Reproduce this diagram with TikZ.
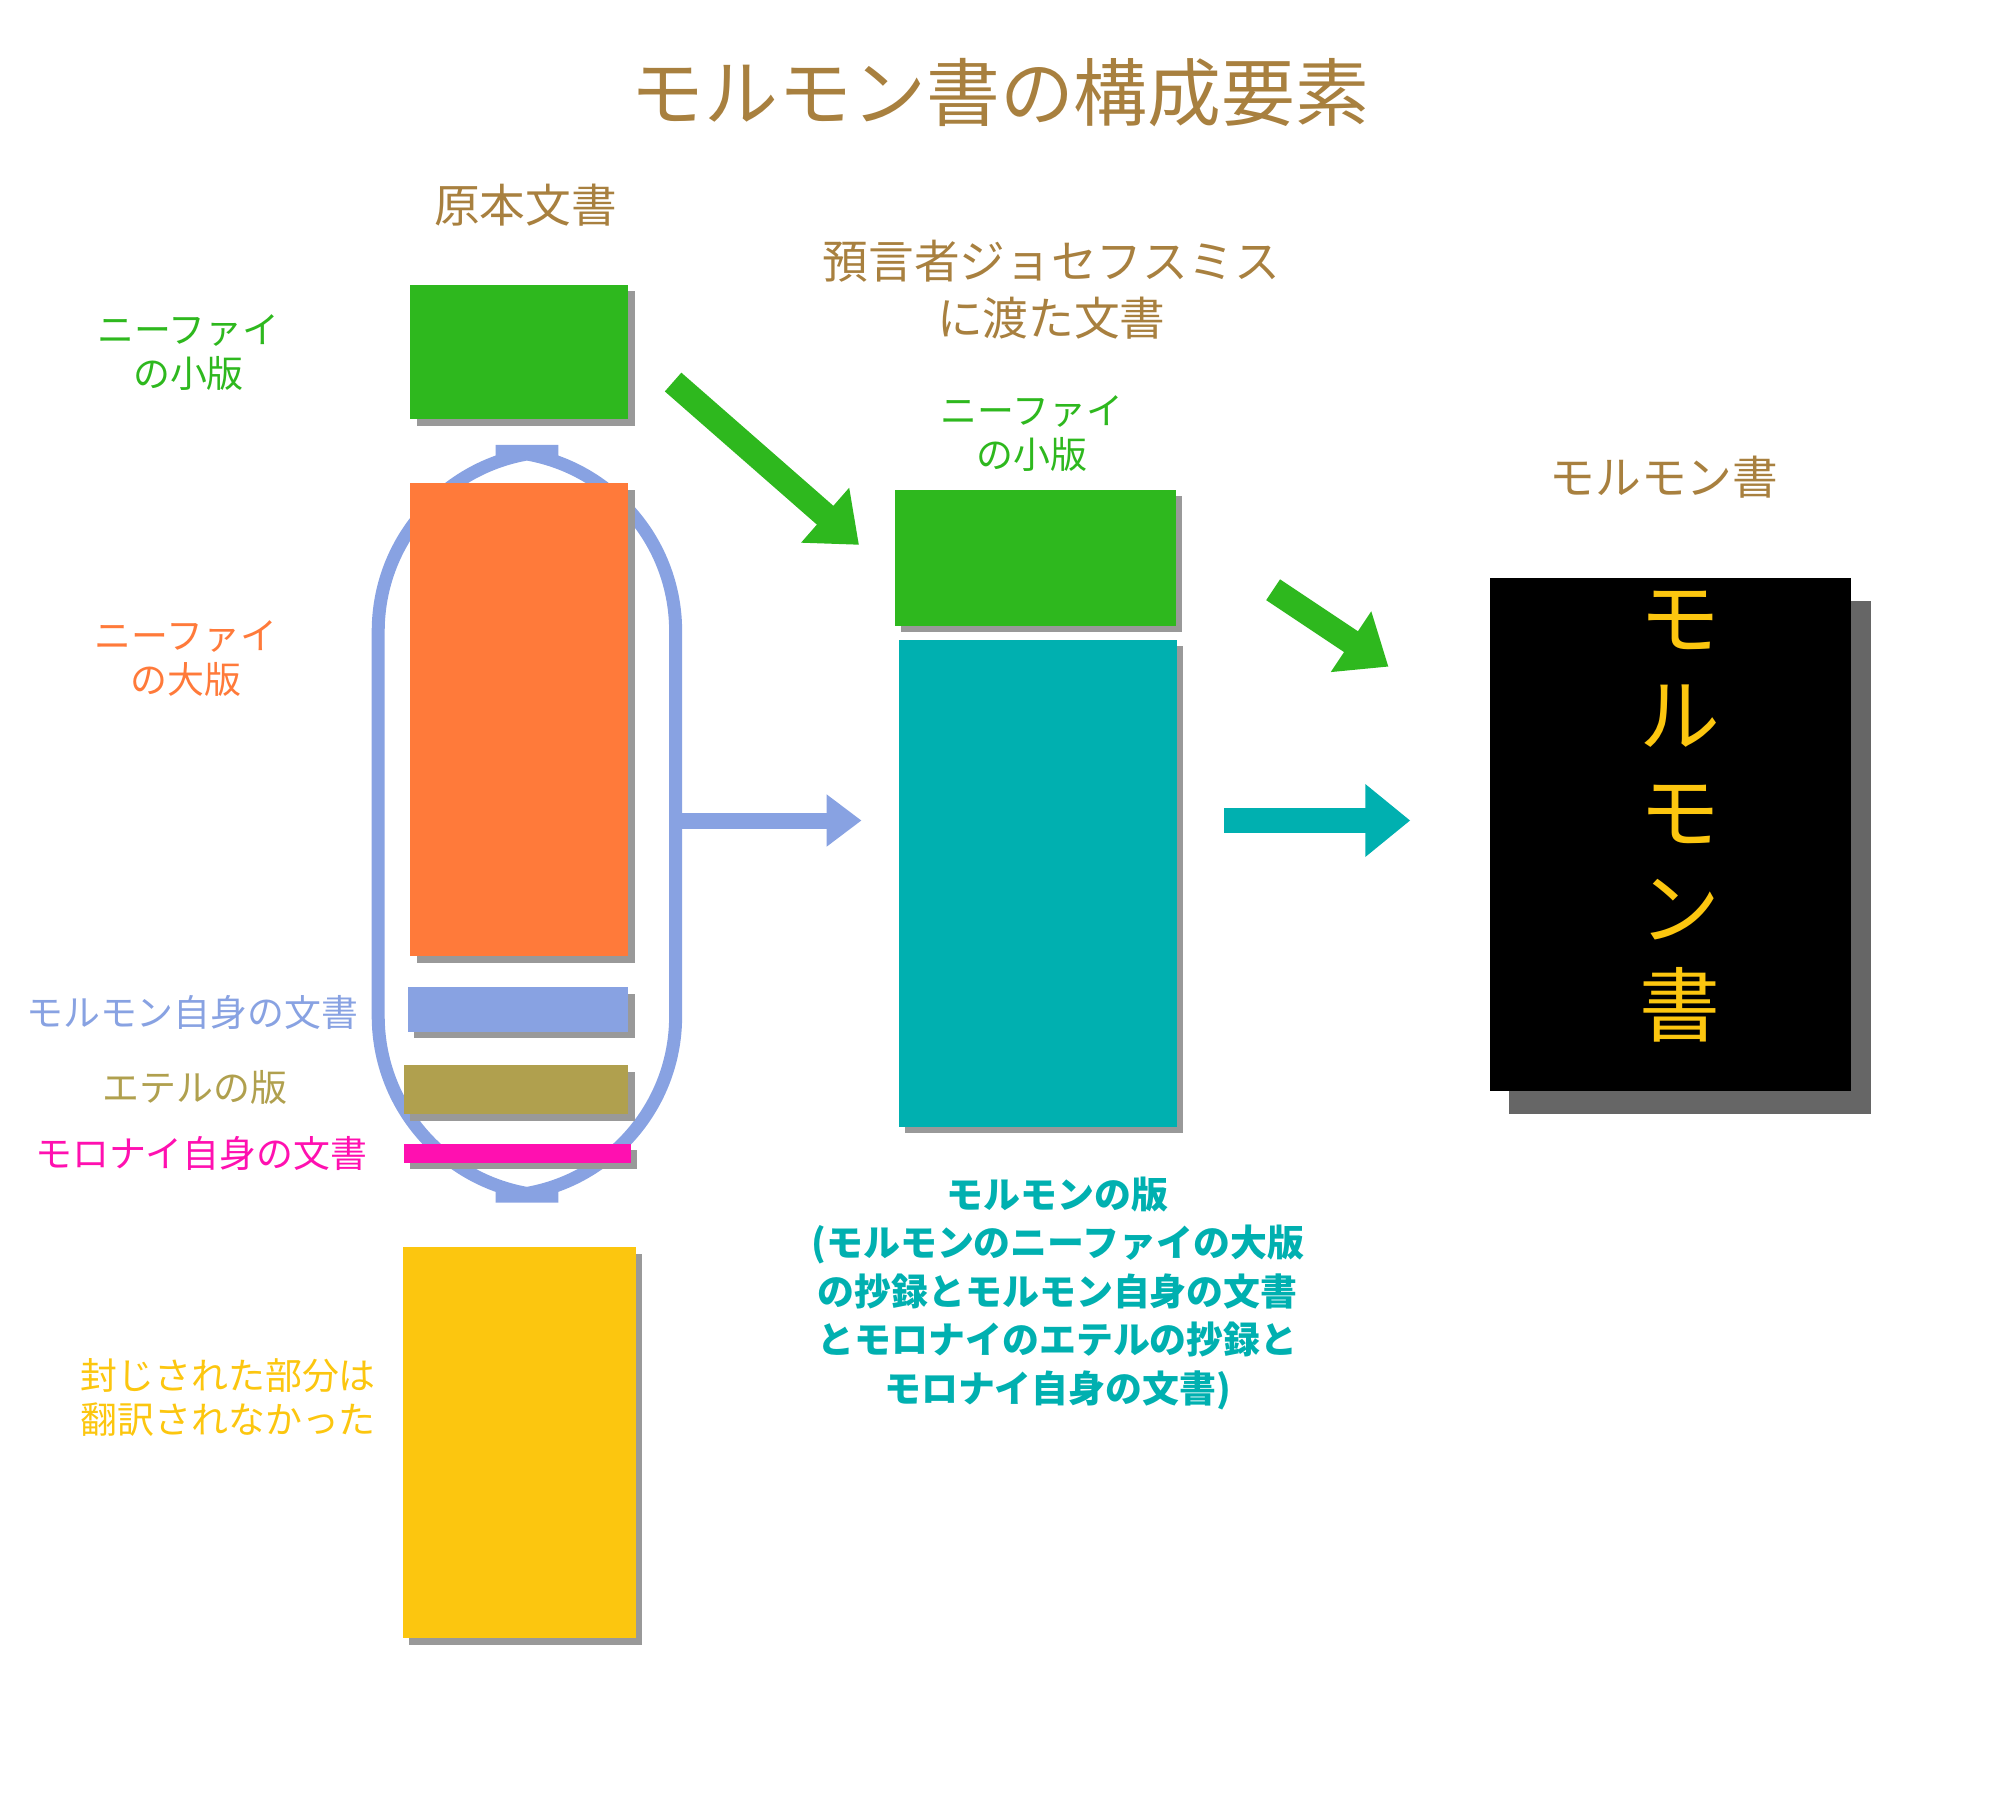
\documentclass[tikz,border=0pt]{standalone}
\usepackage{fontspec}
\setmainfont{Noto Sans CJK JP}
\usetikzlibrary{positioning,arrows.meta,calc}
\definecolor{brn}{HTML}{A8803F}
\definecolor{grn}{HTML}{2EB81E}
\definecolor{org}{HTML}{FF7A3A}
\definecolor{blu}{HTML}{88A2E2}
\definecolor{olv}{HTML}{B0A04E}
\definecolor{mag}{HTML}{FF10B0}
\definecolor{yel}{HTML}{FCC60F}
\definecolor{tea}{HTML}{00B0B0}
\tikzset{
  lbl/.style={align=center,font=\fontsize{10.5}{12.5}\selectfont},
  head/.style={align=center,text=brn,font=\fontsize{13}{16}\selectfont},
  fat/.style={line width=2.5mm,-{Triangle[length=4.5mm,width=7mm]}}
}
\newcommand{\blk}[3]{% fill, corner a, corner b
  \fill[gray!80] ($#2+(5,5)$) rectangle ($#3+(5,5)$);
  \fill[#1] #2 rectangle #3;}
\begin{document}
\begin{tikzpicture}[x=0.01282cm,y=-0.01282cm]
\useasboundingbox (0,0) rectangle (1560,1404);

\node[head,font=\fontsize{21}{24}\selectfont] (title) at (780,72) {モルモン書の構成要素};
\node[head] (orig) at (410,160) {原本文書};

% original plates
\blk{grn}{(320,222)}{(490,327)}
\draw[blu,line width=1.3mm,rounded corners=18mm] (295,352) rectangle (527,933);
\blk{org}{(320,377)}{(490,746)}
\blk{blu}{(318,770)}{(490,805)}
\blk{olv}{(315,831)}{(490,869)}
\blk{mag}{(315,892)}{(492,907)}
\blk{yel}{(314,973)}{(496,1278)}

\node[lbl,text=grn] (small) at (147,275) {ニーファイ\\の小版};
\node[lbl,text=org] (large) at (145,514) {ニーファイ\\の大版};
\node[lbl,text=blu] (mormon) at (150,790) {モルモン自身の文書};
\node[lbl,text=olv] (ether) at (152,848) {エテルの版};
\node[lbl,text=mag] (moroni) at (157,900) {モロナイ自身の文書};
\node[lbl,text=yel] (sealed) at (178,1090) {封じされた部分は\\翻訳されなかった};

% given to Joseph Smith
\node[head] (joseph) at (820,226) {預言者ジョセフスミス\\に渡た文書};
\node[lbl,text=grn] (small2) at (805,338) {ニーファイ\\の小版};
\blk{grn}{(698,382)}{(917,488)}
\blk{tea}{(701,499)}{(918,879)}
\node[lbl,text=tea,font=\bfseries\fontsize{10.5}{13.8}\selectfont,anchor=north] (abr) at (825,908)
  {モルモンの版\\(モルモンのニーファイの大版\\の抄録とモルモン自身の文書\\とモロナイのエテルの抄録と\\モロナイ自身の文書)};

% book of Mormon
\node[head] (book) at (1298,372) {モルモン書};
\fill[black!60] (1177,469) rectangle (1459,869);
\fill[black] (1162,451) rectangle (1444,851);
\node[text=yel,align=center,font=\fontsize{23}{27.5}\selectfont] (vert) at (1310,637) {モ\\ル\\モ\\ン\\書};

% arrows
\coordinate (a1) at (525,298); \coordinate (b1) at (670,425);
\coordinate (a2) at (527,640); \coordinate (b2) at (672,640);
\coordinate (a3) at (993,460); \coordinate (b3) at (1083,520);
\coordinate (a4) at (955,640); \coordinate (b4) at (1100,640);
\draw[fat,grn] (a1) -- (b1);
\draw[fat,blu,line width=1.6mm,-{Triangle[length=3.5mm,width=5mm]}] (a2) -- (b2);
\draw[fat,grn] (a3) -- (b3);
\draw[fat,tea] (a4) -- (b4);
\end{tikzpicture}
\end{document}
